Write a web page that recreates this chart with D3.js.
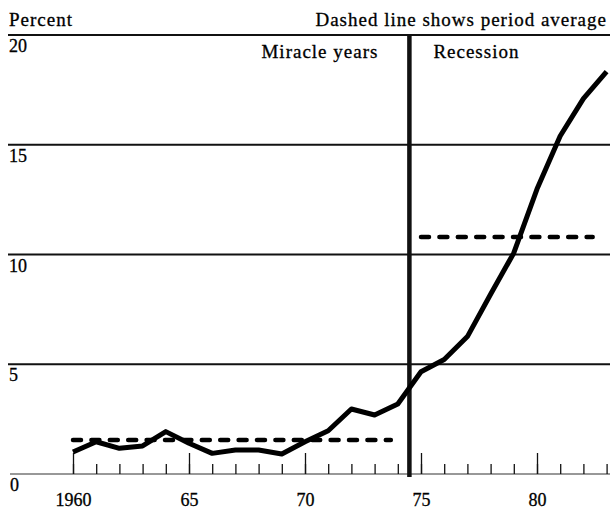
<!DOCTYPE html>
<html>
<head>
<meta charset="utf-8">
<script src="https://cdn.jsdelivr.net/npm/d3@7"></script>
<style>
  body { margin: 0; background: #fff; }
  svg { display: block; }
  text { font-family: "Liberation Serif", "Times New Roman", serif; fill: #000; stroke: #000; stroke-width: 0.3; }
</style>
</head>
<body>
<div id="chart"></div>
<script>
// unemployment rate, percent
var years = [1960, 1961, 1962, 1963, 1964, 1965, 1966, 1967, 1968, 1969, 1970, 1971,
             1972, 1973, 1974, 1975, 1976, 1977, 1978, 1979, 1980, 1981, 1982, 1983];
var rate = [1.0, 1.47, 1.17, 1.28, 1.93, 1.40, 0.94, 1.09, 1.09, 0.91, 1.47, 1.97,
            2.96, 2.69, 3.19, 4.66, 5.22, 6.26, 8.19, 10.07, 12.98, 15.4, 17.1, 18.33];

// period averages (dashed)
var periodNames = ["Miracle years", "Recession"];
var periodStart = [1960, 1975];
var periodEnd = [1973.7, 1982.4];
var periodAvg = [1.55, 10.8];
var breakYear = 1974.5;

var yTicks = [5, 10, 15, 20];
var majorYears = [1960, 1965, 1970, 1975, 1980];
var majorLabels = ["1960", "65", "70", "75", "80"];

var width = 610, height = 510;

var svg = d3.select("#chart").append("svg")
  .attr("width", width)
  .attr("height", height);

var x = d3.scaleLinear().domain([1960, 1983]).range([73, 606.6]);
var y = d3.scaleLinear().domain([0, 20]).range([474, 35]);

// horizontal rules
svg.selectAll(".grid")
  .data(yTicks)
  .enter().append("line")
  .attr("class", "grid")
  .attr("x1", 8).attr("x2", width)
  .attr("y1", function(d) { return y(d); })
  .attr("y2", function(d) { return y(d); })
  .attr("stroke", "#111")
  .attr("stroke-width", 1.8);

svg.selectAll(".ylab")
  .data(yTicks.concat([0]))
  .enter().append("text")
  .attr("class", "ylab")
  .attr("x", function(d) { return d == 0 ? 10 : 9; })
  .attr("y", function(d) { return y(d) + 17; })
  .attr("font-size", 18)
  .text(function(d) { return d; });

// baseline
svg.append("line")
  .attr("x1", 10).attr("x2", width)
  .attr("y1", y(0)).attr("y2", y(0))
  .attr("stroke", "#333")
  .attr("stroke-width", 1.2);

// minor ticks every year
var minorAxis = d3.axisBottom(x)
  .tickValues(years)
  .tickSizeInner(-10)
  .tickSizeOuter(0)
  .tickFormat("");
var gMinor = svg.append("g")
  .attr("transform", "translate(0," + y(0) + ")")
  .call(minorAxis);
gMinor.select(".domain").remove();
gMinor.selectAll(".tick line").attr("stroke", "#111").attr("stroke-width", 1.3);

// major ticks with labels
var majorAxis = d3.axisBottom(x)
  .tickValues(majorYears)
  .tickSizeInner(-21)
  .tickSizeOuter(0)
  .tickPadding(0)
  .tickFormat(function(d, i) { return majorLabels[i]; });
var gMajor = svg.append("g")
  .attr("transform", "translate(0," + y(0) + ")")
  .call(majorAxis);
gMajor.select(".domain").remove();
gMajor.selectAll(".tick line").attr("stroke", "#111").attr("stroke-width", 1.3);
gMajor.selectAll(".tick text")
  .attr("y", 32)
  .attr("dy", null)
  .attr("font-size", 18)
  .attr("font-family", "Liberation Serif, serif")
  .attr("fill", "#000");

// period dividing bar
svg.append("line")
  .attr("x1", x(breakYear)).attr("x2", x(breakYear))
  .attr("y1", y(20) - 1).attr("y2", y(0) + 3)
  .attr("stroke", "#111")
  .attr("stroke-width", 4.5);

// dashed averages
svg.selectAll(".avg")
  .data(periodAvg)
  .enter().append("line")
  .attr("class", "avg")
  .attr("x1", function(d, i) { return x(periodStart[i]); })
  .attr("x2", function(d, i) { return x(periodEnd[i]); })
  .attr("y1", function(d) { return y(d); })
  .attr("y2", function(d) { return y(d); })
  .attr("stroke", "#000")
  .attr("stroke-width", 4.5)
  .attr("stroke-linecap", "round")
  .attr("stroke-dasharray", "8,10.4");

// main series
var line = d3.line()
  .x(function(d, i) { return x(years[i]); })
  .y(function(d) { return y(d); });

svg.append("path")
  .datum(rate)
  .attr("d", line)
  .attr("fill", "none")
  .attr("stroke", "#000")
  .attr("stroke-width", 5)
  .attr("stroke-linejoin", "round");

// texts
svg.append("text")
  .attr("x", 9).attr("y", 26)
  .attr("font-size", 19)
  .attr("letter-spacing", 1)
  .text("Percent");

svg.append("text")
  .attr("x", 607).attr("y", 26)
  .attr("text-anchor", "end")
  .attr("font-size", 19)
  .attr("letter-spacing", 1)
  .text("Dashed line shows period average");

svg.append("text")
  .attr("x", x(breakYear) - 31).attr("y", 58)
  .attr("text-anchor", "end")
  .attr("font-size", 19)
  .attr("letter-spacing", 1)
  .text(periodNames[0]);

svg.append("text")
  .attr("x", x(breakYear) + 24).attr("y", 58)
  .attr("font-size", 19)
  .attr("letter-spacing", 1)
  .text(periodNames[1]);
</script>
</body>
</html>
